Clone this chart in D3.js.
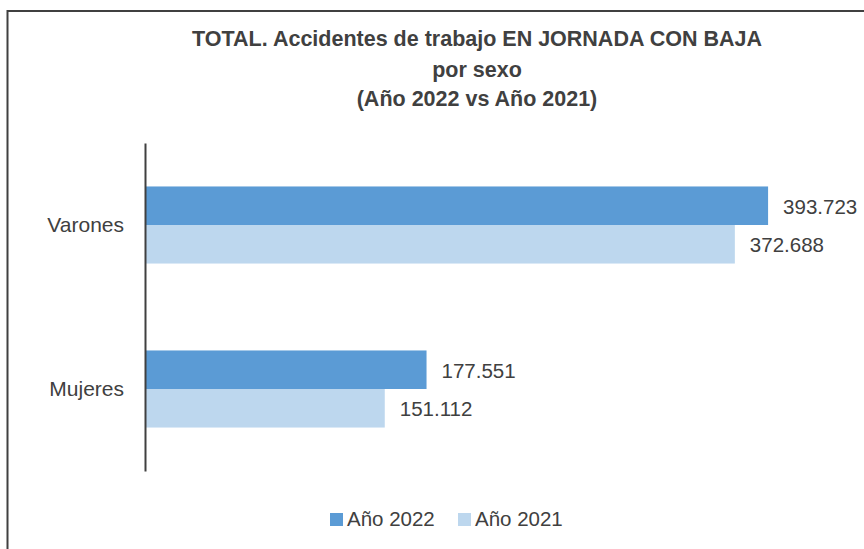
<!DOCTYPE html>
<html lang="es">
<head>
  <meta charset="UTF-8" />
  <title>Accidentes de trabajo por sexo</title>
  <script src="https://d3js.org/d3.v7.min.js"></script>
  <style>
    body {
      margin: 0;
      background-color: white;
      font-family: "Liberation Sans", Arial, sans-serif;
    }
    svg {
      display: block;
    }
    .lbl {
      font-size: 20.5px;
      fill: #404040;
    }
    .cat {
      font-size: 21px;
      fill: #404040;
    }
    .title {
      font-size: 21.5px;
      font-weight: bold;
      fill: #404040;
    }
  </style>
</head>
<body>
  <svg width="864" height="549"></svg>

  <script>
    // data
    const categories = ["Varones", "Mujeres"];
    const years = ["Año 2022", "Año 2021"];
    const values2022 = [393723, 177551];
    const values2021 = [372688, 151112];
    const titleLines = [
      "TOTAL. Accidentes de trabajo EN JORNADA CON BAJA",
      "por sexo",
      "(Año 2022 vs Año 2021)"
    ];
    const colors = { "Año 2022": "#5B9BD5", "Año 2021": "#BDD7EE" };

    const rows = categories.map((c, i) => ({
      cat: c,
      vals: [
        { year: years[0], value: values2022[i] },
        { year: years[1], value: values2021[i] }
      ]
    }));

    const fmt = d3.formatLocale({ decimal: ",", thousands: ".", grouping: [3], currency: ["", "€"] }).format(",");

    const svg = d3.select("svg");

    // outer frame (right and bottom edges fall outside the picture)
    svg.append("rect")
      .attr("x", 7.5)
      .attr("y", 11)
      .attr("width", 900)
      .attr("height", 600)
      .attr("fill", "none")
      .attr("stroke", "#404040")
      .attr("stroke-width", 2);

    // title
    const titleY = [46, 77, 106];
    svg.append("g").selectAll("text")
      .data(titleLines)
      .join("text")
      .attr("class", "title")
      .attr("x", 477)
      .attr("y", (d, i) => titleY[i])
      .attr("text-anchor", "middle")
      .text(d => d);

    const x = d3.scaleLinear()
      .domain([0, 400000])
      .range([146, 778]);

    const y0 = d3.scaleBand()
      .domain(categories)
      .range([143, 471])
      .paddingInner(0.53)
      .paddingOuter(0.265);

    const y1 = d3.scaleBand()
      .domain(years)
      .range([0, y0.bandwidth()]);

    const group = svg.append("g")
      .selectAll("g")
      .data(rows)
      .join("g")
      .attr("transform", d => `translate(0,${y0(d.cat)})`);

    group.selectAll("rect")
      .data(d => d.vals)
      .join("rect")
      .attr("x", x(0))
      .attr("y", d => y1(d.year))
      .attr("width", d => x(d.value) - x(0))
      .attr("height", y1.bandwidth())
      .attr("fill", d => colors[d.year]);

    group.selectAll("text")
      .data(d => d.vals)
      .join("text")
      .attr("class", "lbl")
      .attr("x", d => x(d.value) + 15)
      .attr("y", d => y1(d.year) + y1.bandwidth() / 2 + 8)
      .text(d => fmt(d.value));

    // category axis
    const yAxis = svg.append("g")
      .attr("transform", `translate(${x(0) - 1},0)`)
      .call(d3.axisLeft(y0).tickSize(0).tickPadding(21));
    yAxis.select(".domain")
      .attr("stroke", "#404040")
      .attr("stroke-width", 2);
    yAxis.selectAll(".tick text")
      .attr("class", "cat")
      .attr("font-size", null)
      .attr("font-family", null)
      .attr("dy", "0.35em");

    // legend
    const legendX = [330, 458];
    const legend = svg.append("g")
      .selectAll("g")
      .data(years)
      .join("g")
      .attr("transform", (d, i) => `translate(${legendX[i]},513)`);
    legend.append("rect")
      .attr("width", 13)
      .attr("height", 13)
      .attr("fill", d => colors[d]);
    legend.append("text")
      .attr("class", "lbl")
      .attr("x", 17)
      .attr("y", 13)
      .text(d => d);
  </script>
</body>
</html>
